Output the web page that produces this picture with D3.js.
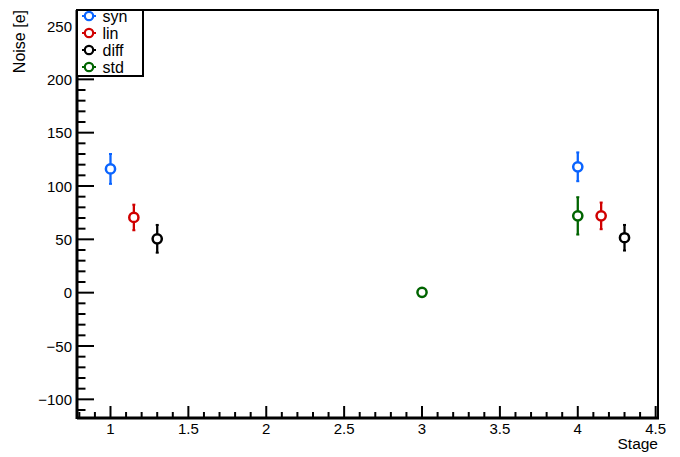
<!DOCTYPE html>
<html><head><meta charset="utf-8">
<script src="https://cdn.jsdelivr.net/npm/d3@7"></script>
<style>body{margin:0;background:#fff}svg{display:block}text{font-family:"Liberation Sans",Arial,sans-serif}</style>
</head><body><svg id="c" width="680" height="457"></svg>
<script>
const seriesNames = ["syn","lin","diff","std"];
const seriesColors = ["#0a64ff","#d00000","#000000","#006400"];
const synX = [1, 4], synY = [116, 118], synErr = [14, 13.5];
const linX = [1.15, 4.15], linY = [70.5, 72], linErr = [12, 12.5];
const diffX = [1.3, 4.3], diffY = [50.5, 51.5], diffErr = [13, 12];
const stdX = [3, 4], stdY = [0.3, 72], stdErr = [0.5, 17.5];
const xTicks = [1, 1.5, 2, 2.5, 3, 3.5, 4, 4.5];
const yTicks = [-100, -50, 0, 50, 100, 150, 200, 250];
const xDomain = [0.785, 4.515], yDomain = [-117.5, 265];

const series = [
  {x: synX, y: synY, e: synErr},
  {x: linX, y: linY, e: linErr},
  {x: diffX, y: diffY, e: diffErr},
  {x: stdX, y: stdY, e: stdErr}
];

const L = 77, R = 658, T = 10, B = 418;
const svg = d3.select("#c");
const x = d3.scaleLinear().domain(xDomain).range([L, R]);
const y = d3.scaleLinear().domain(yDomain).range([B, T]);

// minor ticks
const xMinor = d3.range(8, 46).map(v => v / 10).filter(v => v >= xDomain[0] && v <= xDomain[1]);
const yMinor = d3.range(-110, 270, 10).filter(v => v >= yDomain[0] && v <= yDomain[1]);
const g = svg.append("g");
g.selectAll(".xm").data(xMinor).enter().append("line")
  .attr("x1", d => x(d)).attr("x2", d => x(d)).attr("y1", B).attr("y2", d => B - (xTicks.some(t => Math.abs(t - d) < 1e-6) ? 12 : 6))
  .attr("stroke", "#000").attr("stroke-width", 2);
g.selectAll(".ym").data(yMinor).enter().append("line")
  .attr("y1", d => y(d)).attr("y2", d => y(d)).attr("x1", L).attr("x2", d => L + (yTicks.includes(d) ? 17 : 8.5))
  .attr("stroke", "#000").attr("stroke-width", 2);

// frame
svg.append("rect").attr("x", L).attr("y", T).attr("width", R - L).attr("height", B - T)
  .attr("fill", "none").attr("stroke", "#000").attr("stroke-width", 2);
svg.append("line").attr("x1", L).attr("x2", R + 1).attr("y1", B).attr("y2", B).attr("stroke", "#000").attr("stroke-width", 3);
svg.append("line").attr("x1", L).attr("x2", L).attr("y1", T).attr("y2", B + 1).attr("stroke", "#000").attr("stroke-width", 3);

// tick labels
svg.selectAll(".xl").data(xTicks).enter().append("text")
  .attr("x", d => x(d)).attr("y", 434).attr("text-anchor", "middle").attr("font-size", 15)
  .text(d => d3.format("")(d));
svg.selectAll(".yl").data(yTicks).enter().append("text")
  .attr("x", 72).attr("y", d => y(d) + 5.5).attr("text-anchor", "end").attr("font-size", 15)
  .text(d => d < 0 ? "\u2212" + Math.abs(d) : d);

svg.append("text").attr("x", 658).attr("y", 449).attr("text-anchor", "end").attr("font-size", 15.5).text("Stage");
svg.append("text").attr("transform", "translate(24.5,10) rotate(-90)").attr("text-anchor", "end").attr("font-size", 16).text("Noise [e]");

// points
const r = 4.6;
series.forEach((s, i) => {
  const col = seriesColors[i];
  const pts = s.x.map((xv, j) => ({x: xv, y: s.y[j], e: s.e[j]}));
  const pg = svg.append("g");
  pts.forEach(p => {
    const cx = x(p.x), cy = y(p.y);
    const top = y(p.y + p.e), bot = y(p.y - p.e);
    if (cy - top > r + 1) {
      pg.append("line").attr("x1", cx).attr("x2", cx).attr("y1", top).attr("y2", cy - r)
        .attr("stroke", col).attr("stroke-width", 2.3);
      pg.append("line").attr("x1", cx - 1.5).attr("x2", cx + 1.5).attr("y1", top).attr("y2", top)
        .attr("stroke", col).attr("stroke-width", 2);
    }
    if (bot - cy > r + 1) {
      pg.append("line").attr("x1", cx).attr("x2", cx).attr("y1", cy + r).attr("y2", bot)
        .attr("stroke", col).attr("stroke-width", 2.3);
      pg.append("line").attr("x1", cx - 1.5).attr("x2", cx + 1.5).attr("y1", bot).attr("y2", bot)
        .attr("stroke", col).attr("stroke-width", 2);
    }
    pg.append("circle").attr("cx", cx).attr("cy", cy).attr("r", r)
      .attr("fill", "none").attr("stroke", col).attr("stroke-width", 2.5);
  });
});

// legend
const lg = svg.append("g");
lg.append("rect").attr("x", 77).attr("y", 10).attr("width", 66).attr("height", 66)
  .attr("fill", "#fff").attr("stroke", "#000").attr("stroke-width", 2);
seriesNames.forEach((n, i) => {
  const cy = 16 + i * 17;
  const col = seriesColors[i];
  lg.append("line").attr("x1", 82).attr("x2", 96).attr("y1", cy).attr("y2", cy).attr("stroke", col).attr("stroke-width", 2);
  lg.append("circle").attr("cx", 89).attr("cy", cy).attr("r", 4.2).attr("fill", "#fff").attr("stroke", col).attr("stroke-width", 2.2);
  lg.append("text").attr("x", 102.5).attr("y", cy + 5.5).attr("font-size", 16).text(n);
});
</script></body></html>
